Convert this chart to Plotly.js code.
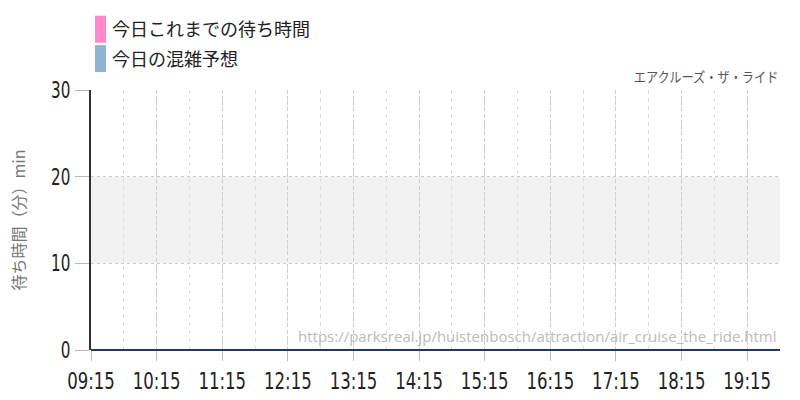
<!DOCTYPE html>
<html>
<head>
<meta charset="utf-8">
<script src="https://cdn.plot.ly/plotly-3.0.1.min.js"></script>
<style>
html,body{margin:0;padding:0;background:#fff}#chart{width:800px;height:400px}
</style>
</head>
<body>
<div id="chart"></div>
<script>
// Data
const day = '2024-01-01';
const tickTimes = ['09:15','10:15','11:15','12:15','13:15','14:15','15:15','16:15','17:15','18:15','19:15'];
const tickLabels = ['09:15','10:15','11:15','12:15','13:15','14:15','15:15','16:15','17:15','18:15','19:15'];
const rangeStart = '09:15';
const rangeEnd = '19:45';
const seriesNames = ['今日これまでの待ち時間', '今日の混雑予想'];
const actualTimes = ['09:15'];
const actualWaits = [null];
const forecastTimes = ['09:15'];
const forecastWaits = [null];
const bandLow = 10, bandHigh = 20;
const yMax = 30;
const attractionName = 'エアクルーズ・ザ・ライド';
const sourceUrl = 'https://parksreal.jp/huistenbosch/attraction/air_cruise_the_ride.html';

const jp = '"Noto Sans CJK JP", "Noto Sans", sans-serif';
const narrow = '"DejaVu Sans", sans-serif';
const toDate = t => day + ' ' + t;

// measure title width to keep its right edge in place after condensing
const cv = document.createElement('canvas').getContext('2d');
cv.font = '14px "Noto Sans CJK JP"';
const annW = cv.measureText(attractionName).width;
const annFactor = 0.87;

const traces = [
  {type:'bar', name: seriesNames[0], legendgroup: 'a', x: actualTimes.map(toDate), y: actualWaits, marker:{color:'#ff88cc'}, showlegend:true},
  {type:'bar', name: seriesNames[1], legendgroup: 'b', x: forecastTimes.map(toDate), y: forecastWaits, marker:{color:'#8fb3d1'}, showlegend:true}
];

const layout = {
  width: 800, height: 400,
  margin: {l: 91, r: 20, t: 90, b: 50},
  paper_bgcolor: '#fff', plot_bgcolor: '#fff',
  font: {family: jp, color: '#222'},
  showlegend: true,
  legend: {x: -0.0276, xanchor: 'left', xref: 'paper', y: 0.9725, yref: 'container', yanchor: 'top',
           font: {family: jp, size: 18, color: '#222'}, bgcolor: 'rgba(0,0,0,0)', tracegroupgap: 3},
  xaxis: {
    type: 'date',
    range: [toDate(rangeStart), toDate(rangeEnd)],
    tickmode: 'array', tickvals: tickTimes.map(toDate), ticktext: tickLabels,
    tickangle: 0,
    ticks: 'outside', ticklen: 10, tickcolor: '#bbb', tickwidth: 1,
    tickfont: {family: narrow, size: 23, color: '#222'},
    showgrid: true, gridcolor: '#ccc', griddash: 'dot', gridwidth: 1,
    minor: {tickmode: 'linear', tick0: toDate(rangeStart), dtick: 1800000, showgrid: true, gridcolor: '#ddd', griddash: '4px,4px', gridwidth: 1, ticks: ''},
    showline: false, zeroline: false, fixedrange: true
  },
  yaxis: {
    range: [0, yMax], tickmode: 'linear', tick0: 0, dtick: 10,
    ticks: 'outside', ticklen: 14, tickcolor: '#bbb', tickwidth: 1,
    tickfont: {family: narrow, size: 23, color: '#222'},
    showgrid: true, gridcolor: '#ccc', griddash: 'dot', gridwidth: 1,
    zeroline: true, zerolinecolor: '#1f3a5c', zerolinewidth: 2,
    showline: true, linecolor: '#333', linewidth: 2,
    title: {text: '待ち時間（分）min', font: {family: jp, size: 16, color: '#777'}, standoff: 12},
    fixedrange: true
  },
  shapes: [
    {type: 'rect', xref: 'paper', x0: 0, x1: 1, yref: 'y', y0: bandLow, y1: bandHigh,
     fillcolor: '#f2f2f2', line: {width: 0}, layer: 'below'}
  ],
  annotations: [
    {text: attractionName, xref: 'paper', x: 1, xanchor: 'right', yref: 'paper', y: 1, yanchor: 'bottom', yshift: 2,
     xshift: Math.round(annW * (1 - annFactor) / 2),
     showarrow: false, font: {family: jp, size: 14, color: '#555'}},
    {text: sourceUrl, xref: 'paper', x: 1, xanchor: 'right', yref: 'y', y: 0, yanchor: 'bottom', yshift: 2, xshift: -2,
     showarrow: false, font: {family: '"Open Sans", "Noto Sans", sans-serif', size: 15, color: '#bbb'}}
  ]
};

function condense(sel, factor) {
  document.querySelectorAll(sel).forEach(function (t) {
    var w = t.getComputedTextLength();
    t.setAttribute('lengthAdjust', 'spacingAndGlyphs');
    t.setAttribute('textLength', (w * factor).toFixed(1));
  });
}

Plotly.newPlot('chart', traces, layout, {displayModeBar: false, staticPlot: true}).then(function () {
  document.querySelectorAll('.legend .legendpoints path').forEach(function (p) {
    p.setAttribute('d', 'M3,-13.5H14V13.5H3Z');
  });
  condense('.xtick text', 0.72);
  condense('.ytick text', 0.66);
  var ann = document.querySelectorAll('.annotation-text');
  if (ann[0]) {
    var w = ann[0].getComputedTextLength();
    ann[0].setAttribute('lengthAdjust', 'spacingAndGlyphs');
    ann[0].setAttribute('textLength', (w * annFactor).toFixed(1));
  }
});
</script>
</body>
</html>
